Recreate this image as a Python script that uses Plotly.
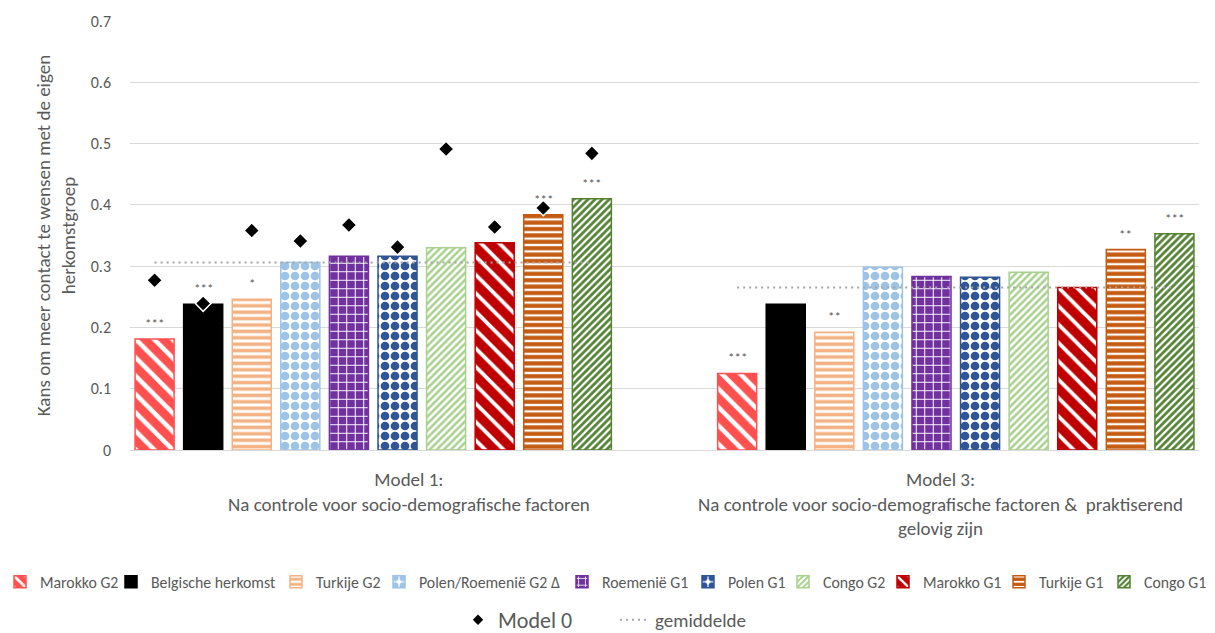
import plotly.graph_objects as go

# ---- data ----
series = ["Marokko G2", "Belgische herkomst", "Turkije G2", "Polen/Roemenië G2 Δ",
          "Roemenië G1", "Polen G1", "Congo G2", "Marokko G1", "Turkije G1", "Congo G1"]
models = ["Model 1:<br>Na controle voor socio-demografische factoren",
          "Model 3:<br>Na controle voor socio-demografische factoren &  praktiserend<br>gelovig zijn"]
model1 = [0.181, 0.238, 0.246, 0.306, 0.316, 0.316, 0.330, 0.338, 0.384, 0.410]
model3 = [0.125, 0.238, 0.192, 0.298, 0.283, 0.282, 0.290, 0.265, 0.327, 0.353]
model0 = [0.277, 0.239, 0.358, 0.341, 0.367, 0.331, 0.491, 0.364, 0.395, 0.484]
sig1 = ["***", "***", "*", "", "", "", "", "", "***", "***"]
sig3 = ["***", "", "**", "", "", "", "", "", "**", "***"]
gemiddelde = [0.306, 0.265]
yticks = [0, 0.1, 0.2, 0.3, 0.4, 0.5, 0.6, 0.7]
ytick_text = ["0", "0.1", "0.2", "0.3", "0.4", "0.5", "0.6", "0.7"]

# ---- styles ----
colors = ["#FF5050", "#000000", "#F4B183", "#9DC3E6", "#7030A0",
          "#2F5597", "#A9D18E", "#C00000", "#C55A11", "#548235"]
patterns = [
    dict(shape="\\", fgcolor="white", bgcolor="#FF5050", size=13, solidity=0.35),
    dict(shape=""),
    dict(shape="-", fgcolor="#F4B183", bgcolor="white", size=6.4, solidity=0.55),
    dict(shape=".", fgcolor="#9DC3E6", bgcolor="white", size=10, solidity=0.6),
    dict(shape="+", fgcolor="white", bgcolor="#7030A0", size=8.5, solidity=0.22),
    dict(shape=".", fgcolor="#2F5597", bgcolor="white", size=10, solidity=0.6),
    dict(shape="/", fgcolor="#A9D18E", bgcolor="white", size=5, solidity=0.5),
    dict(shape="\\", fgcolor="white", bgcolor="#C00000", size=13, solidity=0.3),
    dict(shape="-", fgcolor="#C55A11", bgcolor="white", size=6.4, solidity=0.65),
    dict(shape="/", fgcolor="#548235", bgcolor="white", size=5, solidity=0.55),
]
for p in patterns:
    if p["shape"]:
        p["fgopacity"] = 1

FONT = "Carlito, Calibri, Lato, sans-serif"
GREY = "#595959"
W, H = 1215, 633

# legend layout (text start x in px, row centre y in px)
legend_text_x = [34, 151, 316, 419, 602, 728, 823, 923, 1039, 1144]
legend_row1_y = 582
legend2_text_x = [498, 655]
legend_row2_y = 620

group_pos = [0, 1]
pitch = 0.0834          # distance between bar centres within a group (axis units)
bar_w = 0.067
n = len(series)

def xpos(g, i):
    return group_pos[g] + (i - (n - 1) / 2) * pitch

def legend_key(k):
    return "legend" if k == 0 else f"legend{k + 1}"

fig = go.Figure()
for i, name in enumerate(series):
    fig.add_trace(go.Bar(
        x=[xpos(0, i), xpos(1, i)],
        y=[model1[i], model3[i]],
        width=bar_w,
        name=name,
        marker=dict(color=colors[i], pattern=patterns[i],
                    line=dict(color=colors[i], width=1.5)),
        legend=legend_key(i),
    ))

# significance stars above the bars
annotations = []
for g, (vals, sigs) in enumerate([(model1, sig1), (model3, sig3)]):
    for i in range(n):
        if sigs[i]:
            annotations.append(dict(
                x=xpos(g, i), y=vals[i], xref="x", yref="y", text=sigs[i],
                showarrow=False, yanchor="bottom", yshift=6,
                font=dict(size=13, color=GREY, family=FONT)))

# gemiddelde line: from first bar centre to last bar centre in each group
gx, gy = [], []
for g in range(2):
    gx += [xpos(g, 0), xpos(g, n - 1), None]
    gy += [gemiddelde[g], gemiddelde[g], None]
fig.add_trace(go.Scatter(
    x=gx, y=gy, mode="lines", name="gemiddelde",
    line=dict(color="#A6A6A6", width=2, dash="2px,4px"),
    legend=legend_key(n + 1),
))

# Model 0 diamonds (Model 1 group only)
fig.add_trace(go.Scatter(
    x=[xpos(0, i) for i in range(n)], y=model0, mode="markers", name="Model 0",
    marker=dict(symbol="diamond", size=12, color="black",
                line=dict(color="white", width=1.5)),
    showlegend=False,
))
# legend entry for Model 0 (small diamond)
fig.add_trace(go.Scatter(
    x=[None], y=[None], mode="markers", name="Model 0",
    marker=dict(symbol="diamond", size=8, color="black"),
    legend=legend_key(n),
))

xr = [-0.4175, 1.4175]
span = xr[1] - xr[0]
tickpos = [xr[0] + span * 0.25 + 0.02, xr[0] + span * 0.75 + 0.015]

legends = {}
for i in range(n):
    legends[legend_key(i)] = dict(
        orientation="h", xref="container", yref="container",
        x=max(0, (legend_text_x[i] - 40) / W), xanchor="left",
        y=1 - legend_row1_y / H, yanchor="middle",
        font=dict(size=15.8, color=GREY, family=FONT), itemwidth=30,
        bgcolor="rgba(0,0,0,0)")
for j in range(2):
    legends[legend_key(n + j)] = dict(
        orientation="h", xref="container", yref="container",
        x=(legend2_text_x[j] - 40) / W, xanchor="left",
        y=1 - legend_row2_y / H, yanchor="middle",
        font=dict(size=22 if j == 0 else 19, color=GREY, family=FONT), itemwidth=30,
        bgcolor="rgba(0,0,0,0)")

fig.update_layout(
    width=W, height=H,
    margin=dict(l=130, r=16, t=21, b=183),
    plot_bgcolor="white", paper_bgcolor="white",
    barmode="overlay",
    font=dict(family=FONT, color=GREY, size=14),
    annotations=annotations,
    xaxis=dict(range=xr, tickvals=tickpos, ticktext=models, showgrid=False,
               zeroline=False, showline=False, ticks="",
               tickfont=dict(size=19, color=GREY), ticklabelstandoff=16),
    yaxis=dict(range=[0, 0.7], tickvals=yticks, ticktext=ytick_text,
               showgrid=True, gridcolor="#D9D9D9", gridwidth=1,
               zeroline=True, zerolinecolor="#D9D9D9", zerolinewidth=1,
               showline=False, ticks="", ticklabelstandoff=18,
               tickfont=dict(size=16, color=GREY),
               title=dict(text="Kans om meer contact te wensen met de eigen<br>herkomstgroep",
                          font=dict(size=19, color=GREY), standoff=10)),
    showlegend=True,
    **legends,
)

fig.write_html("out.html", config={"displayModeBar": False},
               post_script="document.body.style.margin='0';")
